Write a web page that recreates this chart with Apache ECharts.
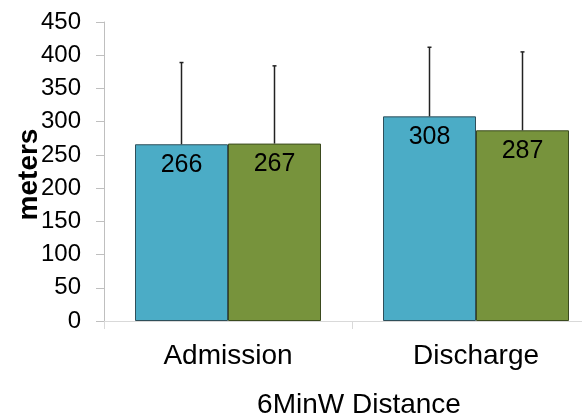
<!DOCTYPE html>
<html><head><meta charset="utf-8">
<script src="https://cdn.jsdelivr.net/npm/echarts@6/dist/echarts.min.js"></script>
<style>html,body{margin:0;padding:0;background:#fff}#c{width:582px;height:419px}</style>
</head><body><div id="c"></div>
<script>
const categories = ['Admission', 'Discharge'];
const seriesNames = ['Series A', 'Series B'];
const valuesA = [266, 308];
const valuesB = [267, 287];
const errTopA = [389, 412];
const errTopB = [384, 405];
const yTicks = [0, 50, 100, 150, 200, 250, 300, 350, 400, 450];

const FONT = 'Liberation Sans, Arial, sans-serif';
const chart = echarts.init(document.getElementById('c'));
const gapRatio = 0.25;

function errSeries(tops, idx) {
  return {
    type: 'custom',
    z: 5,
    data: tops.map((v, i) => [i, v]),
    renderItem: function (params, api) {
      const ci = api.value(0);
      const top = api.coord([ci, api.value(1)]);
      const base = api.coord([ci, idx === 0 ? valuesA[ci] : valuesB[ci]]);
      const band = api.size([1, 0])[0];
      const bw = band * (1 - gapRatio) / 2;
      const x = top[0] + (idx === 0 ? -bw / 2 : bw / 2);
      const st = { stroke: '#222', lineWidth: 1.5 };
      return {
        type: 'group',
        children: [
          { type: 'line', shape: { x1: x, y1: base[1], x2: x, y2: top[1] }, style: st },
          { type: 'line', shape: { x1: x - 2, y1: top[1], x2: x + 2, y2: top[1] }, style: st }
        ]
      };
    }
  };
}

const labelStyle = { show: true, position: 'insideTop', distance: 8, color: '#000', fontSize: 25, fontFamily: FONT };

chart.setOption({
  animation: false,
  backgroundColor: '#fff',
  grid: { left: 104, top: 22, width: 496, height: 299, containLabel: false, outerBoundsMode: 'none' },
  xAxis: {
    type: 'category',
    data: categories,
    axisLine: { lineStyle: { color: '#d9d9d9', width: 1 } },
    axisTick: { show: true, length: 8, lineStyle: { color: '#d9d9d9' } },
    axisLabel: { color: '#000', fontSize: 28, fontFamily: FONT, margin: 21 },
    name: '6MinW Distance',
    nameLocation: 'middle',
    nameGap: 70,
    nameTextStyle: { color: '#000', fontSize: 28, fontFamily: FONT, padding: [0, 0, 0, 14] }
  },
  yAxis: {
    type: 'value',
    min: yTicks[0],
    max: yTicks[yTicks.length - 1],
    interval: 50,
    splitLine: { show: false },
    axisLine: { show: true, lineStyle: { color: '#bfbfbf', width: 1 } },
    axisTick: { show: true, length: 8, lineStyle: { color: '#bfbfbf' } },
    axisLabel: { color: '#000', fontSize: 24, fontFamily: FONT, margin: 23 },
    name: 'meters',
    nameLocation: 'middle',
    nameGap: 61,
    nameMoveOverlap: false,
    nameRotate: 90,
    nameTextStyle: { color: '#000', fontSize: 28, fontWeight: 'bold', fontFamily: FONT, padding: [0, 6, 0, 0] }
  },
  series: [
    {
      name: seriesNames[0], type: 'bar', data: valuesA,
      barGap: '0%', barCategoryGap: (gapRatio * 100) + '%',
      itemStyle: { color: '#4BACC6', borderColor: '#2f4f5a', borderWidth: 1 },
      label: labelStyle
    },
    {
      name: seriesNames[1], type: 'bar', data: valuesB,
      barGap: '0%', barCategoryGap: (gapRatio * 100) + '%',
      itemStyle: { color: '#77933C', borderColor: '#3b4a1e', borderWidth: 1 },
      label: labelStyle
    },
    errSeries(errTopA, 0),
    errSeries(errTopB, 1)
  ]
});
</script></body></html>
